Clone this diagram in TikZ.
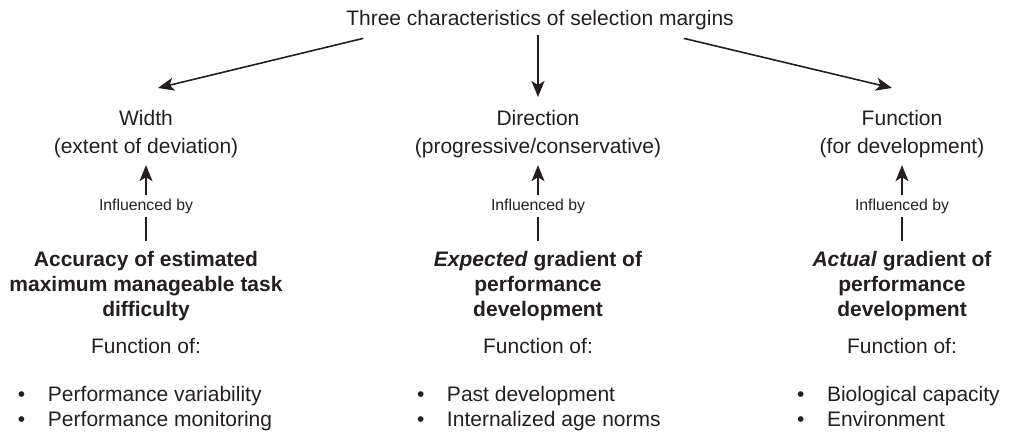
\documentclass[tikz,border=0pt]{standalone}
\usepackage{fontspec}
\setmainfont{Liberation Sans}
\usepackage{xcolor}
\usetikzlibrary{arrows.meta,calc}

\definecolor{ink}{RGB}{35,31,32}
\newcommand{\itembullet}{\makebox[15pt][l]{\textbullet}}

\begin{document}
\begin{tikzpicture}[x=0.5pt, y=-0.5pt,
  >={Stealth[length=8pt,width=6.5pt,inset=2pt]},
  every node/.style={inner sep=0pt, outer sep=0pt, text=ink},
  head/.style={font=\fontsize{10.5}{14}\selectfont, align=center},
  cause/.style={font=\fontsize{10.5}{12.5}\selectfont\bfseries, align=center},
  small/.style={font=\fontsize{7.9}{9}\selectfont},
  items/.style={font=\fontsize{10.5}{12.5}\selectfont, align=left, anchor=north west},
  arr/.style={->, draw=ink, line width=0.8pt},
  link/.style={draw=ink, line width=0.8pt}
]
\useasboundingbox (0,0) rectangle (1010,432);

\node[head, anchor=base] (title) at (540,26) {Three characteristics of selection margins};

% the three characteristics
\node[head, anchor=north] (width) at (146,110) {Width\\(extent of deviation)};
\node[head, anchor=north] (dir) at (538,110) {Direction\\(progressive/conservative)};
\node[head, anchor=north] (func) at (902,110) {Function\\(for development)};

\node[small, anchor=base] (inflw) at (146,211) {Influenced by};
\node[small, anchor=base] (infld) at (538,211) {Influenced by};
\node[small, anchor=base] (inflf) at (902,211) {Influenced by};

\node[cause, anchor=north] (accuracy) at (146,251)
{Accuracy of estimated\\maximum manageable task\\difficulty};
\node[cause, anchor=north] (expected) at (538,251)
{\textit{Expected} gradient of\\performance\\development};
\node[cause, anchor=north] (actual) at (902,251)
{\textit{Actual} gradient of\\performance\\development};

\node[head, anchor=base] (funw) at (146,353) {Function of:};
\node[head, anchor=base] (fund) at (538,353) {Function of:};
\node[head, anchor=base] (funf) at (902,353) {Function of:};

\node[items] (listw) at (18,386)
{\itembullet Performance variability\\\itembullet Performance monitoring};
\node[items] (listd) at (417,386)
{\itembullet Past development\\\itembullet Internalized age norms};
\node[items] (listf) at (797,386)
{\itembullet Biological capacity\\\itembullet Environment};

\draw[arr] ($(title.south west)+(17,8)$) -- ($(width.north)+(12,-22)$);
\draw[arr] ($(title.south -| dir.north)+(0,5)$) -- ($(dir.north)+(0,-13)$);
\draw[arr] ($(title.south east)+(-50,8)$) -- ($(func.north)+(-10,-22)$);

\draw[arr, shorten <=2.2pt, shorten >=3.8pt] (inflw.north) -- (width.south);
\draw[arr, shorten <=2.2pt, shorten >=3.8pt] (infld.north) -- (dir.south);
\draw[arr, shorten <=2.2pt, shorten >=3.8pt] (inflf.north) -- (func.south);

\draw[link, shorten <=1.4pt, shorten >=4.8pt] (inflw.south) -- (accuracy.north);
\draw[link, shorten <=1.4pt, shorten >=4.8pt] (infld.south) -- (expected.north);
\draw[link, shorten <=1.4pt, shorten >=4.8pt] (inflf.south) -- (actual.north);
\end{tikzpicture}
\end{document}
